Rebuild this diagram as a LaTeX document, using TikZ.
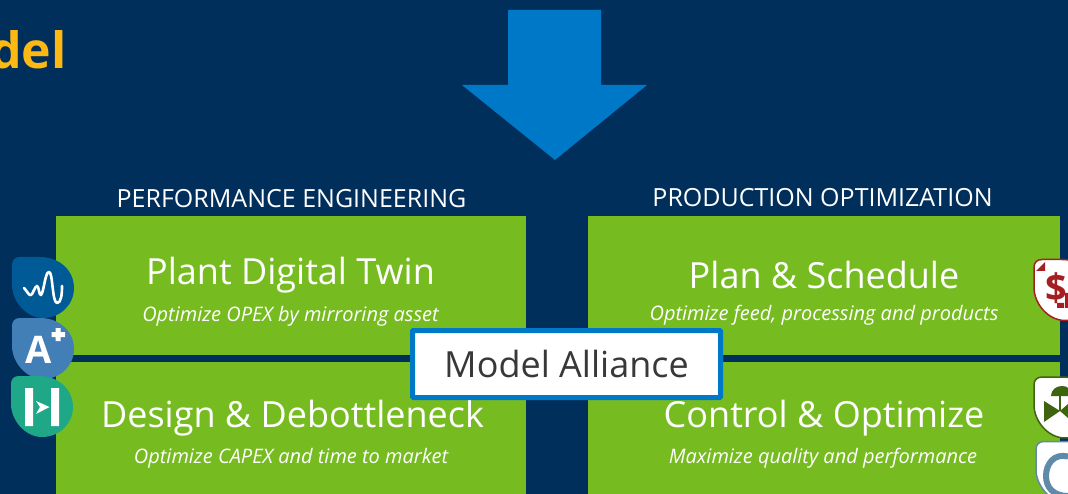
\documentclass[tikz,border=0pt]{standalone}
\usepackage{fontspec}
\setmainfont{Open Sans}
\usetikzlibrary{calc}

\definecolor{navy}{HTML}{002F5B}
\definecolor{leaf}{HTML}{76BC21}
\definecolor{azure}{HTML}{0078C8}
\definecolor{amber}{HTML}{FDB813}
\definecolor{wine}{HTML}{A51E22}
\definecolor{moss}{HTML}{3F6410}
\definecolor{steel}{HTML}{5F8BA8}

\tikzset{
  panel/.style={fill=leaf, inner sep=0pt, minimum width=470pt},
  head/.style={text=white, font=\fontsize{25}{25}\selectfont},
  title/.style={text=white, font=\fontsize{36}{36}\selectfont},
  sub/.style={text=white, font=\fontsize{20}{20}\selectfont\itshape},
  badge/.pic={
    \path[pic actions] (0,8) .. controls (0,3) and (3,0) .. (8,0) -- (28,0)
      .. controls (48,0) and (62,14) .. (62,31)
      .. controls (62,48) and (48,61) .. (31,61)
      .. controls (14,61) and (0,44) .. (0,28) -- cycle;
  }
}

\begin{document}
\begin{tikzpicture}[x=1pt,y=-1pt]

     \fill[navy] (0,0) rectangle (1068,494);
     \useasboundingbox (0,0) rectangle (1068,494);

     \node[text=amber, anchor=east, font=\fontsize{50}{50}\selectfont\bfseries] (word) at (70,50) {del};

     \fill[azure] (508,10) -- (601,10) -- (601,85) -- (647,85) -- (555,160) -- (462,85) -- (508,85) -- cycle;

     \node[head] (perf) at (291.5,198.5) {PERFORMANCE ENGINEERING};
     \node[head] (prod) at (822.5,198) {PRODUCTION OPTIMIZATION};

     \node[panel, minimum height=139pt] (twin) at (291,285.5) {};
     \node[panel, minimum height=132pt] (design) at (291,428) {};
     \node[panel, minimum width=472pt, minimum height=139pt] (plan) at (824,285.5) {};
     \node[panel, minimum width=472pt, minimum height=132pt] (control) at (824,428) {};

     \node[title] (t1) at (290.5,275) {Plant Digital Twin};
     \node[sub] (s1) at (290.5,316) {Optimize OPEX by mirroring asset};
     \node[title] (t2) at (292.5,418) {Design \& Debottleneck};
     \node[sub] (s2) at (291,458.5) {Optimize CAPEX and time to market};
     \node[title] (t3) at (824,275) {Plan \& Schedule};
     \node[sub] (s3) at (824,315) {Optimize feed, processing and products};
     \node[title] (t4) at (824,418) {Control \& Optimize};
     \node[sub] (s4) at (823,458.5) {Maximize quality and performance};

     % left badges
     \pic[fill={rgb,255:red,0;green,90;blue,150}] at (12,257) {badge};
     \pic[fill={rgb,255:red,66;green,127;blue,182}] at (12,318) {badge};
     \pic[fill={rgb,255:red,31;green,168;blue,136}] at (11,376) {badge};

     \draw[white, line width=2.6pt, line cap=round, line join=round] (24,288) .. controls (27,291) and (29,296) .. (31,295)
        .. controls (33,294) and (35,286) .. (37,286) .. controls (39,286) and (39,296) .. (41,295)
        .. controls (44,292) and (45,272) .. (49,272) .. controls (53,272) and (52,302) .. (57,303)
        .. controls (61,303) and (62,295) .. (62,286);

     \node[text=white, font=\fontsize{38}{38}\selectfont\bfseries] (aplus) at (39,350) {A};
     \fill[white] (51.5,332) rectangle (65,337) (55.5,328) rectangle (60.5,341);

     \fill[white] (25,388) rectangle (33,426) (51,388) rectangle (59,426);
     \fill[white] (36,401) -- (49.5,407) -- (36,414) -- (40,407) -- cycle;

     % right badges
     \pic[fill=white, draw=wine, line width=1.5pt] at (1034,259.5) {badge};
     \fill[wine] (1036,271) -- (1045,262) -- (1045,271) -- cycle;
     \node[text=wine, font=\fontsize{38}{38}\selectfont\bfseries] (dollar) at (1056,288) {\$};
     \fill[wine] (1057,303) rectangle (1064,308) (1065,293) rectangle (1068,308);

     \pic[fill=white, draw=moss, line width=1.5pt] at (1034,377) {badge};
     \fill[moss] (1044,401) -- (1060,411) -- (1044,422) -- cycle;
     \fill[moss] (1068,404) -- (1060,411) -- (1068,418) -- cycle;
     \fill[moss] (1051,396) .. controls (1051,390) and (1056,386) .. (1062,386) .. controls (1065,386) and (1068,387) .. (1068,388) -- (1068,396) -- cycle;
     \draw[moss, line width=2pt] (1060,396) -- (1060,411);

     \pic[fill=white, draw=steel, line width=1.5pt] at (1036,441.5) {badge};
     \draw[steel, line width=6pt] (1068,456.5) .. controls (1054,453) and (1046,464) .. (1046,476) .. controls (1046,488) and (1054,496) .. (1068,496);

     % centre box
     \node[fill=white, draw=azure, line width=5pt, rounded corners=1pt, minimum width=308pt, minimum height=67pt, inner sep=0pt,
           text=black!78, font=\fontsize{36}{36}\selectfont] (alliance) at (566.5,364) {Model Alliance};

\end{tikzpicture}
\end{document}
